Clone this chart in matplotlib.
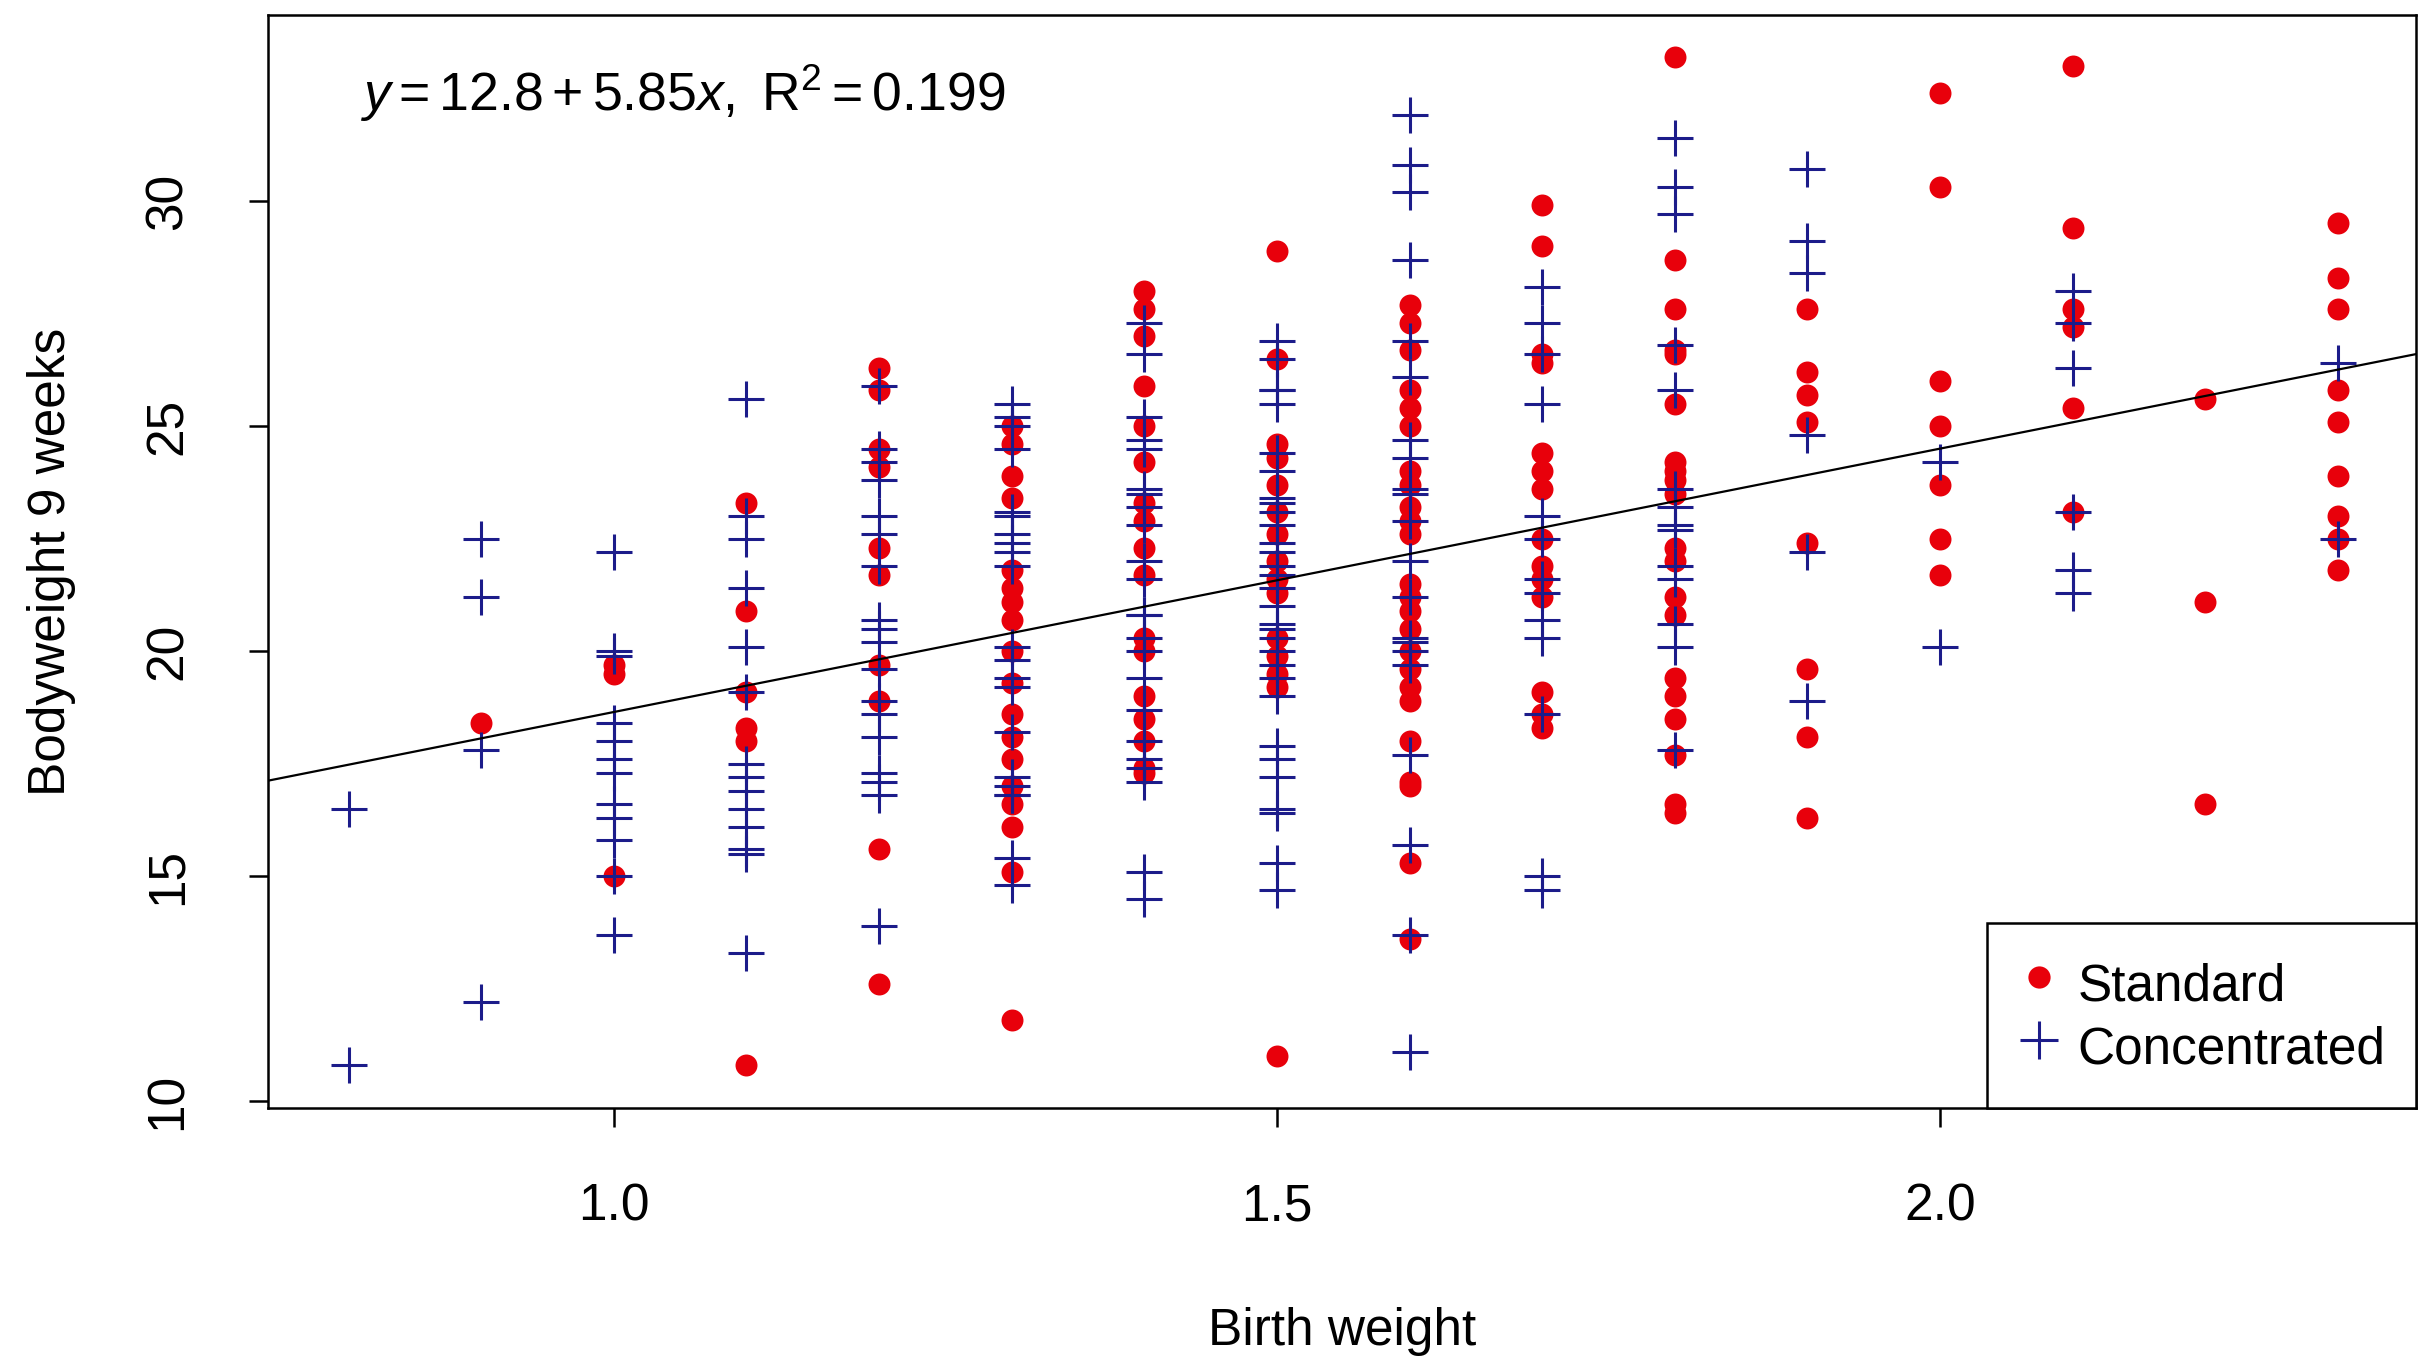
import matplotlib
matplotlib.use("Agg")
import matplotlib.pyplot as plt
from matplotlib.lines import Line2D

# --- data (birth weight groups, bodyweight at 9 weeks) ---
bw_levels = [0.8, 0.9, 1.0, 1.1, 1.2, 1.3, 1.4, 1.5, 1.6, 1.7, 1.8, 1.9, 2.0, 2.1, 2.2, 2.3]

standard_wt = [
    [],
    [18.4],
    [19.7, 19.5, 15.0],
    [23.3, 20.9, 19.1, 18.3, 18.0, 10.8],
    [26.3, 25.8, 24.5, 24.1, 22.3, 21.7, 19.7, 18.9, 15.6, 12.6],
    [25.0, 24.6, 23.9, 23.4, 21.8, 21.4, 21.1, 20.7, 20.0, 19.3, 18.6, 18.1, 17.6, 17.0, 16.6, 16.1, 15.1, 11.8],
    [28.0, 27.6, 27.0, 25.9, 25.0, 24.2, 23.3, 22.9, 22.3, 21.7, 20.3, 20.0, 19.0, 18.5, 18.0, 17.4, 17.3],
    [28.9, 26.5, 24.6, 24.3, 23.7, 23.1, 22.6, 22.0, 21.6, 21.3, 20.3, 19.9, 19.5, 19.2, 11.0],
    [27.7, 27.3, 26.7, 25.8, 25.4, 25.0, 24.0, 23.7, 23.2, 22.9, 22.6, 21.5, 21.2, 20.9, 20.5, 20.0,
     19.6, 19.2, 18.9, 18.0, 17.1, 17.0, 15.3, 13.6],
    [29.9, 29.0, 26.6, 26.4, 24.4, 24.0, 23.6, 22.5, 21.9, 21.6, 21.2, 19.1, 18.6, 18.3],
    [33.2, 28.7, 27.6, 26.7, 26.6, 25.5, 24.2, 24.0, 23.8, 23.5, 22.3, 22.0, 21.2, 20.8, 19.4, 19.0,
     18.5, 17.7, 16.6, 16.4],
    [27.6, 26.2, 25.7, 25.1, 22.4, 19.6, 18.1, 16.3],
    [32.4, 30.3, 26.0, 25.0, 23.7, 22.5, 21.7],
    [33.0, 29.4, 27.6, 27.2, 25.4, 23.1],
    [25.6, 21.1, 16.6],
    [29.5, 28.3, 27.6, 25.8, 25.1, 23.9, 23.0, 22.5, 21.8],
]

concentrated_wt = [
    [16.5, 10.8],
    [22.5, 21.2, 17.8, 12.2],
    [22.2, 20.0, 19.9, 18.4, 18.0, 17.6, 17.3, 16.6, 16.3, 15.8, 15.0, 13.7],
    [25.6, 23.0, 22.5, 21.4, 20.1, 19.1, 17.5, 17.2, 16.9, 16.5, 16.1, 15.6, 15.5, 13.3],
    [25.9, 24.5, 24.2, 23.8, 23.0, 22.6, 21.9, 20.7, 20.5, 20.2, 19.6, 18.9, 18.6, 18.1, 17.3, 17.1, 16.8, 13.9],
    [25.5, 25.2, 25.0, 24.5, 23.1, 23.0, 22.6, 22.4, 22.2, 21.9, 20.1, 19.8, 19.4, 19.2, 18.2, 17.2,
     17.0, 16.8, 16.8, 15.4, 14.8],
    [27.3, 26.6, 25.2, 24.7, 24.5, 23.6, 23.5, 23.2, 22.8, 22.0, 21.6, 20.8, 20.8, 20.3, 20.0, 19.4,
     18.7, 18.0, 17.6, 17.4, 17.1, 15.1, 14.5],
    [26.9, 26.5, 25.8, 25.8, 25.5, 24.4, 24.0, 23.4, 23.3, 23.1, 22.8, 22.4, 22.2, 21.9, 21.7, 21.4,
     21.0, 20.6, 20.5, 20.3, 20.0, 19.7, 19.4, 19.0, 17.9, 17.6, 17.2, 16.5, 16.4, 15.3, 14.7],
    [31.9, 30.8, 30.2, 28.7, 26.9, 26.1, 24.7, 24.3, 23.6, 23.5, 22.9, 22.0, 21.2, 20.3, 20.2, 20.0,
     19.7, 17.7, 15.7, 13.7, 11.1],
    [28.1, 27.3, 26.6, 25.5, 23.0, 22.5, 21.6, 21.3, 20.7, 20.3, 18.6, 15.0, 14.7],
    [31.4, 30.3, 29.7, 26.8, 25.8, 23.6, 23.2, 22.8, 22.7, 21.9, 21.6, 20.6, 20.1, 17.8],
    [30.7, 29.1, 28.4, 24.8, 22.2, 18.9],
    [24.2, 20.1],
    [28.0, 27.3, 26.3, 23.1, 21.8, 21.3],
    [],
    [26.4, 22.5],
]

fit_intercept = 12.8
fit_slope = 5.85
fit_r2 = 0.199

# --- flatten groups ---
std_x, std_y, con_x, con_y = [], [], [], []
for bw, s, c in zip(bw_levels, standard_wt, concentrated_wt):
    std_x += [bw] * len(s)
    std_y += s
    con_x += [bw] * len(c)
    con_y += c

plt.rcParams["font.family"] = ["Liberation Sans", "DejaVu Sans"]
plt.rcParams["mathtext.fontset"] = "custom"
plt.rcParams["mathtext.rm"] = "Liberation Sans"
plt.rcParams["mathtext.it"] = "Liberation Sans:italic"

FS = 37
RED = "#e8000b"
BLUE = "#1c1c8a"

fig = plt.figure(figsize=(24.24, 13.69), dpi=100)
ax = fig.add_axes([0.1104, 0.1908, 0.9968 - 0.1104, 0.9887 - 0.1908])

ax.scatter(std_x, std_y, s=250, color=RED, marker="o", linewidths=0, zorder=2)
ax.scatter(con_x, con_y, s=700, color=BLUE, marker="+", linewidths=2.2, zorder=3)

# regression line across the whole panel (abline style)
ax.axline((0, fit_intercept), slope=fit_slope, color="black", lw=1.6, zorder=4)

ax.set_xlim(0.739, 2.359)
ax.set_ylim(9.86, 34.12)
ax.set_xticks([1.0, 1.5, 2.0])
ax.set_xticklabels(["1.0", "1.5", "2.0"])
ax.set_yticks([10, 15, 20, 25, 30])
ax.set_yticklabels(["10", "15", "20", "25", "30"], rotation=90, va="center")
ax.tick_params(axis="both", labelsize=FS, length=14, width=1.8, pad=40, direction="out")
for sp in ax.spines.values():
    sp.set_linewidth(1.8)

ax.set_xlabel("Birth weight", fontsize=FS)
ax.xaxis.set_label_coords(0.5, -0.205)
ax.xaxis.label.set_va("center")
ax.set_ylabel("Bodyweight 9 weeks", fontsize=FS)
ax.yaxis.set_label_coords(-0.1005, 0.5)
ax.yaxis.label.set_va("center")

ax.text(0.809, 32.4,
        r"$y = %.1f + %.2fx,\ \mathrm{R}^2 = %.3f$" % (fit_intercept, fit_slope, fit_r2),
        fontsize=38.5, ha="left", va="center")

handles = [
    Line2D([], [], marker="o", ls="none", color=RED, markersize=16, markeredgewidth=0),
    Line2D([], [], marker="+", ls="none", color=BLUE, markersize=27, markeredgewidth=2.2),
]
leg = ax.legend(handles, ["Standard", "Concentrated"], loc="lower right", fontsize=FS,
                frameon=True, fancybox=False, borderaxespad=0, handlelength=0.8,
                handleheight=1.45, handletextpad=0.35, labelspacing=0.03,
                borderpad=0.6, framealpha=1)
leg.get_frame().set_edgecolor("black")
leg.get_frame().set_linewidth(1.8)

fig.savefig("out.png", dpi=100)
